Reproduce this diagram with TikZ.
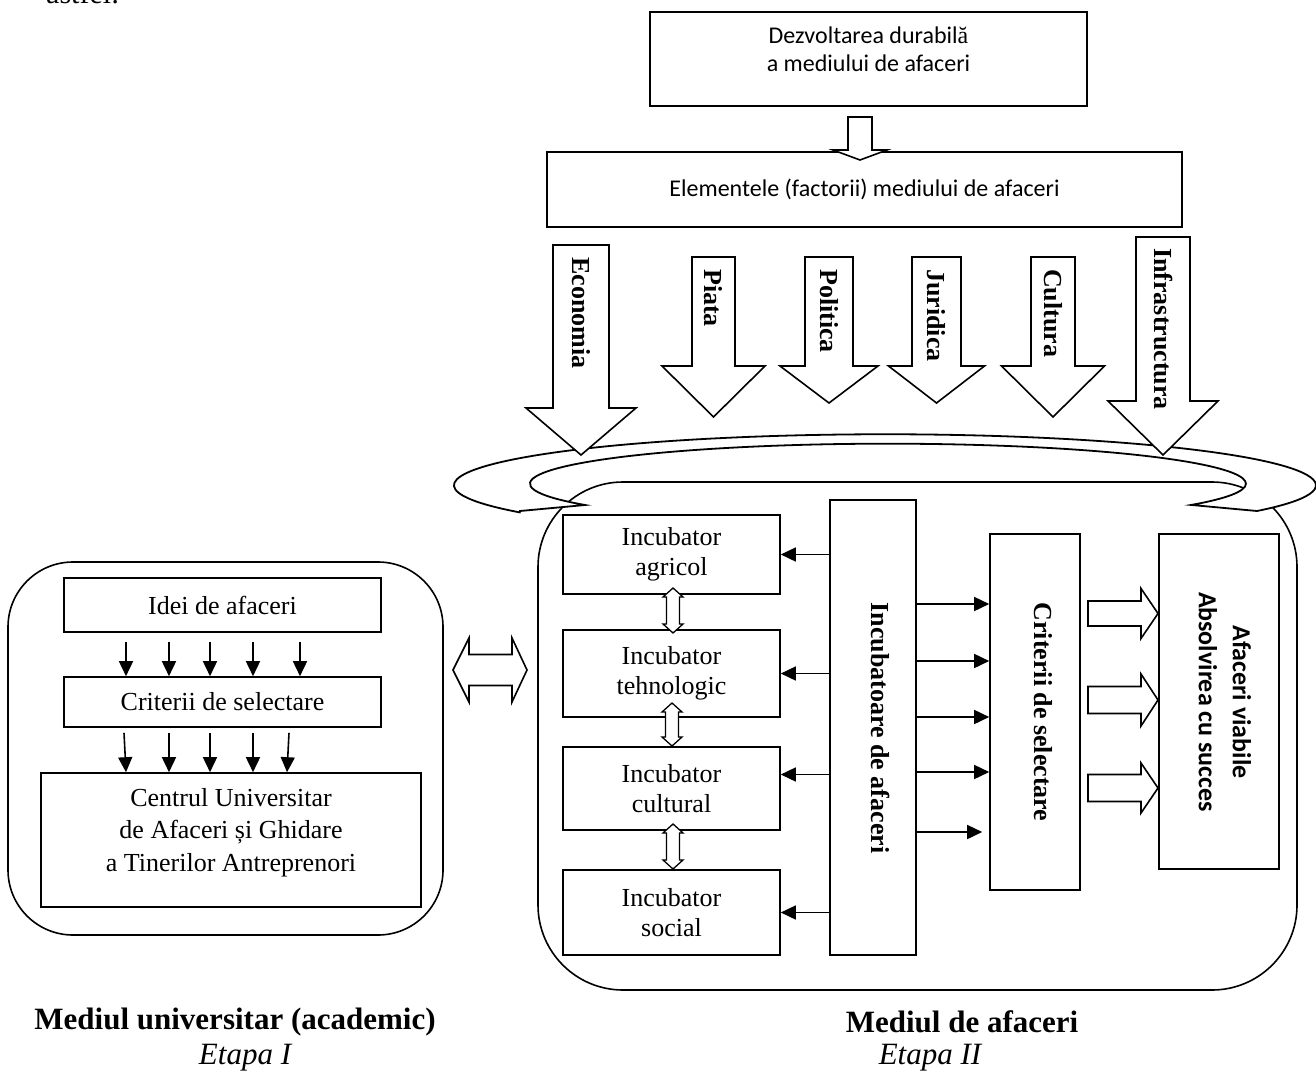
\documentclass[tikz,border=0pt]{standalone}
\usepackage{fontspec}
\setmainfont{Liberation Serif}
\newfontfamily\topfont{Carlito}
\newfontfamily\carfont{Carlito}
\usetikzlibrary{arrows.meta,calc}

\tikzset{
 lw/.style={line width=1.6pt},
 box/.style={draw, lw, fill=white, inner sep=0pt},
 txt/.style={font=\fontsize{26}{30}\selectfont, align=center, inner sep=0pt},
 vlab/.style={font=\fontsize{26}{30}\selectfont\bfseries, rotate=-90, inner sep=0pt},
 arr/.style={lw, -{Triangle[length=15pt,width=14pt]}},
 blk/.style={draw, lw, fill=white, line join=miter},
 panel/.style={draw, lw, fill=white, inner sep=0pt},
 botb/.style={font=\fontsize{31}{36}\selectfont\bfseries, inner sep=0pt},
 boti/.style={font=\fontsize{31}{36}\selectfont\itshape, inner sep=0pt},
}

% cx, shaft half width, ytop, ybase, head half width, ytip
\newcommand{\dnarrow}[6]{%
 \draw[blk] ({#1-#2},#3) -- ({#1+#2},#3) -- ({#1+#2},#4) -- ({#1+#5},#4) -- (#1,#6) -- ({#1-#5},#4) -- ({#1-#2},#4) -- cycle;}
% x0, xheadbase, xtip, ycenter, shaft half, head half
\newcommand{\rtarrow}[6]{%
 \draw[blk] (#1,{#4-#5}) -- (#2,{#4-#5}) -- (#2,{#4-#6}) -- (#3,#4) -- (#2,{#4+#6}) -- (#2,{#4+#5}) -- (#1,{#4+#5}) -- cycle;}
% cx, ytop, ybottom
\newcommand{\vdarrow}[3]{%
 \draw[blk, line width=1.3pt] (#1,#2) -- ({#1+10},{#2+9}) -- ({#1+6.5},{#2+9}) -- ({#1+6.5},{#3-9}) -- ({#1+10},{#3-9}) -- (#1,#3) -- ({#1-10},{#3-9}) -- ({#1-6.5},{#3-9}) -- ({#1-6.5},{#2+9}) -- ({#1-10},{#2+9}) -- cycle;}

\begin{document}
\begin{tikzpicture}[x=1pt,y=-1pt]
\useasboundingbox (0,0) rectangle (1316,1075);
\fill[white] (0,0) rectangle (1316,1075);

\node[font=\fontsize{30}{32}\selectfont, anchor=base west, inner sep=0pt] (astfel) at (46,4) {astfel:};

% top boxes
\node[box, minimum width=437pt, minimum height=94pt] (dezv) at (868.5,59) {};
\node[font=\topfont\fontsize{24}{28}\selectfont, align=center, inner sep=0pt] (dezvt) at (868.5,49) {Dezvoltarea durabil{\rmfamily ă}\\a mediului de afaceri};
\node[box, minimum width=635pt, minimum height=75pt, font=\topfont\fontsize{24}{28}\selectfont] (elem) at (864.5,189.5) {Elementele (factorii) mediului de afaceri};
\dnarrow{860}{12}{117}{150}{27}{160}

% right panel and ribbon
\node[panel, rounded corners=85pt, minimum width=759pt, minimum height=508pt] (rpanel) at (917.5,736) {};
\draw[lw, fill=white, line width=1.8pt] (520,511) -- (585,505)
  arc[start angle=147.8, end angle=392.1, x radius=358, y radius=40] -- (1257,511)
  arc[start angle=30.3, end angle=-212.1, x radius=431, y radius=51] -- cycle;

% factor arrows
\dnarrow{581}{28}{245}{408}{55}{455}
\dnarrow{713.5}{21.5}{257}{366}{51.5}{417}
\dnarrow{829}{24}{257}{366}{49}{403}
\dnarrow{936.5}{24.5}{257}{366}{48}{403}
\dnarrow{1053}{22}{257}{366}{51.5}{417}
\dnarrow{1163}{27}{237}{401}{55}{455}
\node[vlab, anchor=west] (leco) at (581,257) {Economia};
\node[vlab, anchor=west] (lpia) at (713.5,269) {Piata};
\node[vlab, anchor=west] (lpol) at (829,269) {Politica};
\node[vlab, anchor=west] (ljur) at (936.5,269) {Juridica};
\node[vlab, anchor=west] (lcul) at (1053,269) {Cultura};
\node[vlab, anchor=west] (linf) at (1163,248) {Infrastructura};

% left panel
\node[panel, rounded corners=65pt, minimum width=435pt, minimum height=373pt] (lpanel) at (225.5,748.5) {};
\node[box, txt, minimum width=317pt, minimum height=54pt] (idei) at (222.5,605) {Idei de afaceri};
\node[box, txt, minimum width=317pt, minimum height=50pt] (critL) at (222.5,702) {Criterii de selectare};
\node[box, minimum width=380pt, minimum height=134pt] (centrul) at (231,840) {};
\node[txt, font=\fontsize{26}{32.5}\selectfont] (centrult) at (231,832.5) {Centrul Universitar\\de Afaceri și Ghidare\\a Tinerilor Antreprenori};
\foreach \dx in {-96.5,-53.5,-12.5,30.5,77.5}
  \draw[arr] ($(idei.south)+(\dx,9)$) -- ($(critL.north)+(\dx,0)$);
\foreach \da/\db in {-98.5/-105,-53.5/-62,-12.5/-21,30.5/22,66.5/56}
  \draw[arr] ($(critL.south)+(\da,5)$) -- ($(centrul.north)+(\db,0)$);

% double arrow between panels
\draw[blk] (453,670) -- (469,638) -- (469,654.5) -- (512,654.5) -- (512,638) -- (527,670) -- (512,702) -- (512,685.5) -- (469,685.5) -- (469,702) -- cycle;

% right panel content
\node[box, txt, minimum width=217pt, minimum height=79pt] (agr) at (671.5,554.5) {Incubator\\agricol};
\node[box, txt, minimum width=217pt, minimum height=87pt] (teh) at (671.5,673.5) {Incubator\\tehnologic};
\node[box, txt, minimum width=217pt, minimum height=83pt] (cul) at (671.5,788.5) {Incubator\\cultural};
\node[box, txt, minimum width=217pt, minimum height=85pt] (soc) at (671.5,912.5) {Incubator\\social};
\vdarrow{673}{588}{633}
\vdarrow{672}{703}{746}
\vdarrow{673}{824}{869}

\node[box, minimum width=86pt, minimum height=455pt] (inc) at (873,727.5) {};
\node[vlab] (inct) at (880,728) {Incubatoare de afaceri};
\node[box, minimum width=90pt, minimum height=356pt] (crit) at (1035,712) {};
\node[vlab] (critt) at (1043,712) {Criterii de selectare};
\node[box, minimum width=120pt, minimum height=335pt] (afac) at (1219,701.5) {};
\node[font=\carfont\bfseries\fontsize{26}{34}\selectfont, rotate=-90, align=center, inner sep=0pt] (afact) at (1225,702) {Afaceri viabile\\Absolvirea cu succes};

\draw[arr] (inc.west |- agr.east) -- (agr.east);
\draw[arr] (inc.west |- teh.east) -- (teh.east);
\draw[arr] ([yshift=14pt]inc.west |- cul.east) -- ([yshift=14pt]cul.east);
\draw[arr] (inc.west |- soc.east) -- (soc.east);

\foreach \dy in {-123.5,-66.5,-10.5,44.5}
  \draw[arr] ($(inc.east)+(0,\dy)$) -- ($(inc.east -| crit.west)+(0,\dy)$);
\draw[arr, shorten >=7pt] ($(inc.east)+(0,104.5)$) -- ($(inc.east -| crit.west)+(0,104.5)$);

\rtarrow{1088}{1141}{1158}{613.5}{12.5}{25}
\rtarrow{1088}{1141}{1158}{700}{13.5}{26}
\rtarrow{1088}{1141}{1158}{788}{13.5}{25}

% bottom labels
\node[botb] (mu) at (235,1022) {Mediul universitar (academic)};
\node[boti] (e1) at (245,1058) {Etapa I};
\node[botb] (ma) at (962,1022) {Mediul de afaceri};
\node[boti] (e2) at (930,1058) {Etapa II};
\end{tikzpicture}
\end{document}
